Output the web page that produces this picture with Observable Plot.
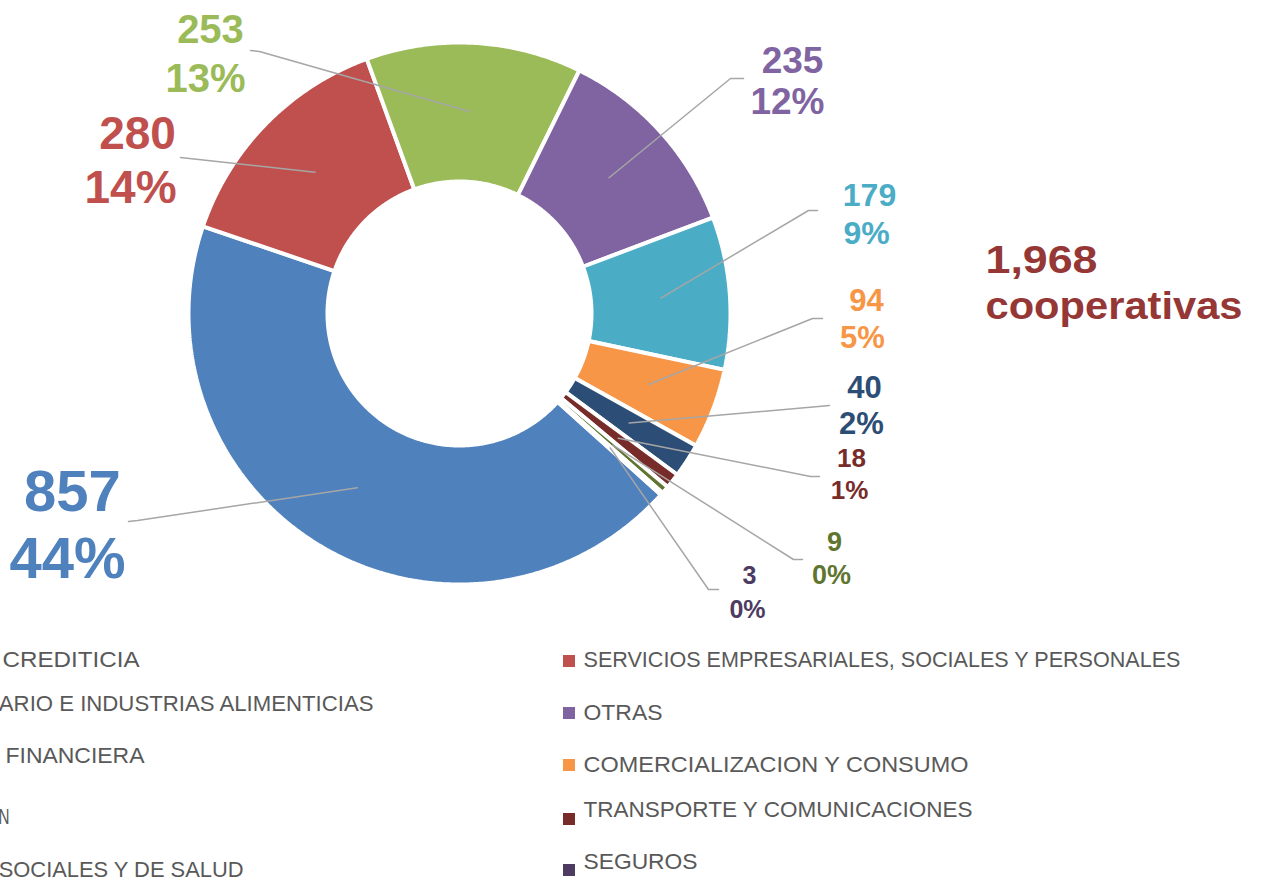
<!DOCTYPE html>
<html><head><meta charset="utf-8">
<script src="https://cdn.jsdelivr.net/npm/d3@7"></script>
<script src="https://cdn.jsdelivr.net/npm/@observablehq/plot@0.6"></script>
<style>body{margin:0;background:#fff;overflow:hidden} svg{display:block}</style>
</head><body><div id="chart"></div>
<script>
// ---- data ----
const categories = [
  "ACTIVIDAD CREDITICIA",
  "SERVICIOS EMPRESARIALES, SOCIALES Y PERSONALES",
  "AGROPECUARIO E INDUSTRIAS ALIMENTICIAS",
  "OTRAS",
  "ACTIVIDAD FINANCIERA",
  "COMERCIALIZACION Y CONSUMO",
  "CONSTRUCCION",
  "TRANSPORTE Y COMUNICACIONES",
  "SERVICIOS SOCIALES Y DE SALUD",
  "SEGUROS"
];
const values = [857, 280, 253, 235, 179, 94, 40, 18, 9, 3];
const colors = ["#4F81BD","#C0504D","#9BBB59","#8064A2","#4BACC6","#F79646","#2C4D75","#772C2A","#5F7530","#4D3B62"];
const totalWord = "cooperativas";

// ---- layout ----
const W = 1261, H = 882;
const cx = 459, cy = 313, R = 271, r = 132, startDeg = 132;
const FONT = "'Liberation Sans', Arial, sans-serif";
const labelLayout = [
  {nx:72,  ny:510, px:67,  py:577, size:58, lx:128, ly:521, ex:137, ey:520},
  {nx:137, ny:148, px:130, py:202, size:46, lx:180, ly:157, ex:189, ey:158},
  {nx:210, ny:42,  px:205, py:91,  size:40, lx:250, ly:50,  ex:259, ey:51},
  {nx:792, ny:72,  px:787, py:113, size:37, lx:743, ly:78,  ex:730, ey:78},
  {nx:869, ny:205, px:866, py:243, size:32, lx:817, ly:210, ex:808, ey:210},
  {nx:866, ny:310, px:862, py:347, size:31, lx:822, ly:318, ex:812, ey:318},
  {nx:864, ny:397, px:861, py:433, size:31, lx:829, ly:405, ex:818, ey:406},
  {nx:851, ny:466, px:849, py:498, size:26, lx:819, ly:476, ex:810, ey:476},
  {nx:834, ny:550, px:831, py:583, size:27, lx:802, ly:559, ex:793, ey:559},
  {nx:749, ny:583, px:747, py:617, size:25, lx:718, ly:589, ex:708, ey:589}
];
const legendRight = {textX:583, markX:563, textY:[660,713,765,810,862], markY:[661,713,765,819,870], widths:[597,79,385,389,114]};
const legendLeft = {endX:[139,373,144,9,243], textY:[660,704,756,817,870],
  visible:["CREDITICIA","ARIO E INDUSTRIAS ALIMENTICIAS","FINANCIERA","N","SOCIALES Y DE SALUD"],
  visibleW:[137,375,139,11,245]};
const legendFont = 21.5;
const totalWidths = {num: 112, word: 257};

// ---- geometry ----
const total = d3.sum(values);
let acc = 0;
const slices = values.map((v, i) => {
  const a0 = startDeg + acc / total * 360; acc += v;
  const a1 = startDeg + acc / total * 360;
  return {cat: categories[i], v, a0, a1, mid: (a0 + a1) / 2};
});
const pt = (deg, rad) => [cx + rad * Math.sin(deg * Math.PI / 180), cy - rad * Math.cos(deg * Math.PI / 180)];
const polyPts = slices.flatMap(s => {
  const n = Math.max(2, Math.ceil((s.a1 - s.a0) / 0.5));
  const out = d3.range(n + 1).map(k => pt(s.a0 + (s.a1 - s.a0) * k / n, R));
  const inn = d3.range(n + 1).map(k => pt(s.a1 - (s.a1 - s.a0) * k / n, r));
  return [...out, ...inn].map(([x, y]) => ({cat: s.cat, x, y}));
});
const midR = (R + r) / 2 + 0.5;
const leaderPts = slices.flatMap((s, i) => {
  const L = labelLayout[i];
  const [x3, y3] = pt(s.mid, midR);
  return [{cat: s.cat, x: L.lx, y: L.ly}, {cat: s.cat, x: L.ex, y: L.ey}, {cat: s.cat, x: x3, y: y3}];
});
const pctFmt = d3.format(".0%");
const numRows = slices.map((s, i) => ({cat: s.cat, x: labelLayout[i].nx, y: labelLayout[i].ny, size: labelLayout[i].size, text: String(s.v)}));
const pctRows = slices.map((s, i) => ({cat: s.cat, x: labelLayout[i].px, y: labelLayout[i].py, size: labelLayout[i].size, text: pctFmt(s.v / total)}));

// legend
const cvs = document.createElement("canvas").getContext("2d");
cvs.font = `${legendFont}px ${FONT}`;
const targetW = new Map();
const rightRows = [1,3,5,7,9].map((ci, k) => {
  targetW.set(categories[ci], legendRight.widths[k]);
  return {cat: categories[ci], x: legendRight.textX, y: legendRight.textY[k], my: legendRight.markY[k], mx: legendRight.markX};
});
const leftRows = [0,2,4,6,8].map((ci, k) => {
  const full = cvs.measureText(categories[ci]).width;
  const part = cvs.measureText(legendLeft.visible[k]).width;
  const kScale = legendLeft.visibleW[k] / part;
  const wTxt = full * kScale;
  targetW.set(categories[ci], wTxt);
  return {cat: categories[ci], x: legendLeft.endX[k], y: legendLeft.textY[k], my: legendLeft.textY[k], mx: legendLeft.endX[k] - wTxt - 20};
});
const markRows = [...leftRows, ...rightRows];

const totalRows = [
  {text: d3.format(",")(total), x: 985, y: 272, kind: "num"},
  {text: totalWord, x: 985, y: 318, kind: "word"}
];
targetW.set(totalRows[0].text, totalWidths.num);
targetW.set(totalRows[1].text, totalWidths.word);

const chart = Plot.plot({
  width: W, height: H, margin: 0,
  style: {background: "white", overflow: "hidden"},
  x: {domain: [0, W], range: [0, W], axis: null},
  y: {domain: [0, H], range: [0, H], axis: null},
  color: {domain: categories, range: colors},
  marks: [
    Plot.line(polyPts, {x: "x", y: "y", z: "cat", fill: "cat", stroke: "white", strokeWidth: 4, curve: "linear-closed", strokeLinejoin: "miter"}),
    Plot.line(leaderPts, {x: "x", y: "y", z: "cat", stroke: "#A6A6A6", strokeWidth: 1.5, strokeLinejoin: "round"}),
    Plot.text(numRows, {x: "x", y: "y", text: "text", fill: "cat", fontSize: "size", fontWeight: "bold", fontFamily: FONT, textAnchor: "middle", lineAnchor: "bottom"}),
    Plot.text(pctRows, {x: "x", y: "y", text: "text", fill: "cat", fontSize: "size", fontWeight: "bold", fontFamily: FONT, textAnchor: "middle", lineAnchor: "bottom"}),
    Plot.text(totalRows, {x: "x", y: "y", text: "text", fill: "#953735", fontSize: 38, fontWeight: "bold", fontFamily: FONT, textAnchor: "start", lineAnchor: "bottom"}),
    Plot.rect(markRows, {x1: "mx", x2: d => d.mx + 12, y1: d => d.my - 6, y2: d => d.my + 6, fill: "cat"}),
    Plot.text(rightRows, {x: "x", y: "y", text: "cat", fill: "#595959", fontSize: legendFont, fontFamily: FONT, textAnchor: "start", lineAnchor: "middle"}),
    Plot.text(leftRows, {x: "x", y: "y", text: "cat", fill: "#595959", fontSize: legendFont, fontFamily: FONT, textAnchor: "end", lineAnchor: "middle"})
  ]
});
d3.select(chart).selectAll("text").each(function() {
  const t = this.textContent;
  if (targetW.has(t)) {
    d3.select(this).attr("textLength", targetW.get(t)).attr("lengthAdjust", "spacingAndGlyphs");
  }
});
document.getElementById("chart").appendChild(chart);
</script>
</body></html>
